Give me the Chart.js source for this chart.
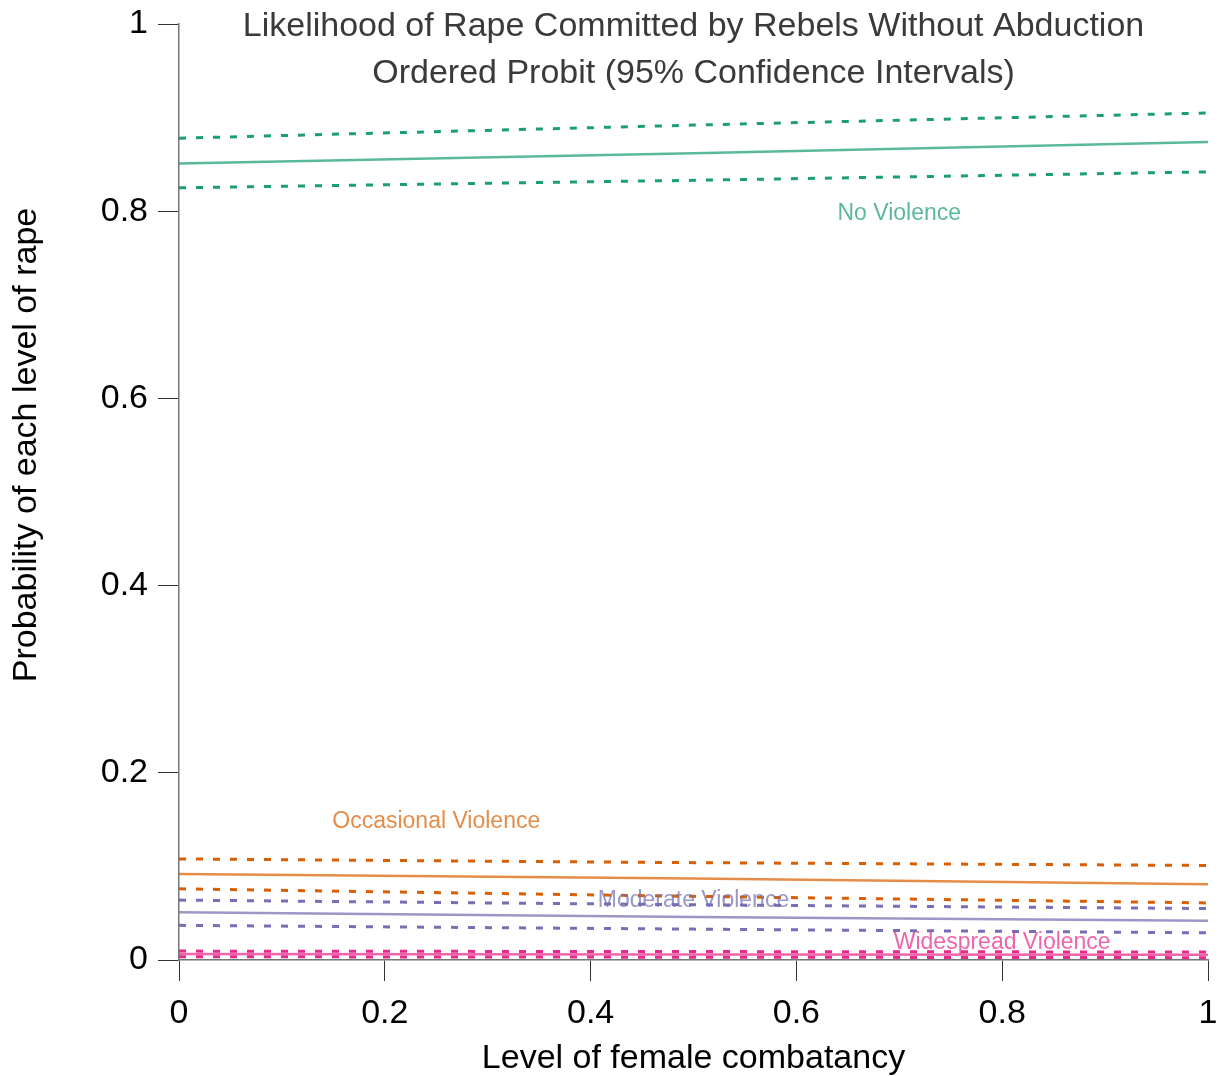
<!DOCTYPE html>
<html>
<head>
<meta charset="utf-8">
<script src="https://cdn.jsdelivr.net/npm/chart.js@4.4.0/dist/chart.umd.min.js"></script>
<style>
  html, body { margin: 0; padding: 0; background: #fff; }
  #wrap { width: 1222px; height: 1076px; }
</style>
</head>
<body>
<div id="wrap"><canvas id="chart"></canvas></div>
<script>
// level of female combatancy
const xVals = [0, 0.5, 1];

// predicted probabilities (solid) and 95% bounds (dashed)
const noViolence = [0.851, 0.862, 0.874];
const noViolenceHi = [0.878, 0.892, 0.905];
const noViolenceLo = [0.825, 0.833, 0.842];

const occasional = [0.092, 0.087, 0.081];
const occasionalHi = [0.108, 0.104, 0.101];
const occasionalLo = [0.076, 0.068, 0.061];

const moderate = [0.051, 0.046, 0.042];
const moderateHi = [0.064, 0.059, 0.055];
const moderateLo = [0.037, 0.033, 0.029];

const widespread = [0.0065, 0.006, 0.0055];
const widespreadHi = [0.0095, 0.009, 0.0085];
const widespreadLo = [0.0035, 0.003, 0.0025];

const yTicks = [0, 0.2, 0.4, 0.6, 0.8, 1];
const xTicks = [0, 0.2, 0.4, 0.6, 0.8, 1];

// text labels placed at data coordinates
const labelNames = ["No Violence", "Occasional Violence", "Moderate Violence", "Widespread Violence"];
const labelX = [0.7, 0.25, 0.5, 0.8];
const labelY = [0.797, 0.1476, 0.063, 0.018];

const FONT = "'Liberation Sans', Arial, sans-serif";

const colors = {
  green: "#1b9e77",
  orange: "#d95f02",
  purple: "#7570b3",
  pink: "#e7298a"
};
const soft = {
  green: "rgba(27,158,119,0.72)",
  orange: "rgba(217,95,2,0.72)",
  purple: "rgba(117,112,179,0.72)",
  pink: "rgba(231,41,138,0.72)"
};

function pts(arr) {
  return xVals.map((x, i) => ({ x: x, y: arr[i] }));
}

function solid(arr, c) {
  return { data: pts(arr), borderColor: soft[c], borderWidth: 2.5, pointRadius: 0, fill: false, tension: 0 };
}
function dashed(arr, c) {
  return { data: pts(arr), borderColor: colors[c], borderWidth: 3, borderDash: [7, 10], pointRadius: 0, fill: false, tension: 0 };
}

const textPlugin = {
  id: "textPlugin",
  afterDraw(chart) {
    const ctx = chart.ctx;
    const xs = chart.scales.x, ys = chart.scales.y;
    const area = chart.chartArea;
    ctx.save();
    ctx.textAlign = "center";
    ctx.textBaseline = "middle";
    // title
    ctx.fillStyle = "#3a3a3a";
    ctx.font = "34px " + FONT;
    const cx = (area.left + area.right) / 2;
    ctx.fillText("Likelihood of Rape Committed by Rebels Without Abduction", cx, 27);
    ctx.fillText("Ordered Probit (95% Confidence Intervals)", cx, 74);
    // axis titles
    ctx.fillStyle = "#000";
    ctx.fillText("Level of female combatancy", cx, 1059);
    ctx.translate(27, 445);
    ctx.rotate(-Math.PI / 2);
    ctx.fillText("Probability of each level of rape", 0, 0);
    ctx.restore();

    // series labels
    ctx.save();
    ctx.textAlign = "center";
    ctx.textBaseline = "middle";
    ctx.font = "23px " + FONT;
    const labelColors = [soft.green, soft.orange, soft.purple, soft.pink];
    labelNames.forEach((name, i) => {
      ctx.fillStyle = labelColors[i];
      ctx.fillText(name, xs.getPixelForValue(labelX[i]), ys.getPixelForValue(labelY[i]));
    });
    ctx.restore();
  }
};

new Chart(document.getElementById("chart"), {
  type: "line",
  data: {
    datasets: [
      dashed(noViolenceHi, "green"), solid(noViolence, "green"), dashed(noViolenceLo, "green"),
      dashed(occasionalHi, "orange"), solid(occasional, "orange"), dashed(occasionalLo, "orange"),
      dashed(moderateHi, "purple"), solid(moderate, "purple"), dashed(moderateLo, "purple"),
      dashed(widespreadHi, "pink"), solid(widespread, "pink"), dashed(widespreadLo, "pink")
    ]
  },
  options: {
    responsive: true,
    maintainAspectRatio: false,
    animation: false,
    layout: { padding: { top: 24, right: 14, left: 0, bottom: 0 } },
    plugins: { legend: { display: false }, tooltip: { enabled: false } },
    scales: {
      x: {
        type: "linear",
        min: 0, max: 1,
        afterFit(scale) {
          scale.height = 116;
          scale.paddingLeft = 0;
          scale.paddingRight = 0;
        },
        afterBuildTicks(scale) { scale.ticks = xTicks.map(v => ({ value: v })); },
        grid: { drawOnChartArea: false, tickLength: 21, color: "#333", lineWidth: 1 },
        border: { color: "#777", width: 1.5 },
        ticks: {
          color: "#000",
          font: { size: 34, family: FONT },
          padding: 12,
          maxRotation: 0,
          callback: v => String(v)
        }
      },
      y: {
        min: 0, max: 1,
        afterFit(scale) {
          scale.width = 179;
          scale.paddingTop = 0;
          scale.paddingBottom = 0;
        },
        afterBuildTicks(scale) { scale.ticks = yTicks.map(v => ({ value: v })); },
        grid: { drawOnChartArea: false, tickLength: 21, color: "#333", lineWidth: 1 },
        border: { color: "#777", width: 1.5 },
        ticks: {
          color: "#000",
          font: { size: 34, family: FONT },
          padding: 10,
          callback: v => String(v)
        }
      }
    }
  },
  plugins: [textPlugin]
});
</script>
</body>
</html>
